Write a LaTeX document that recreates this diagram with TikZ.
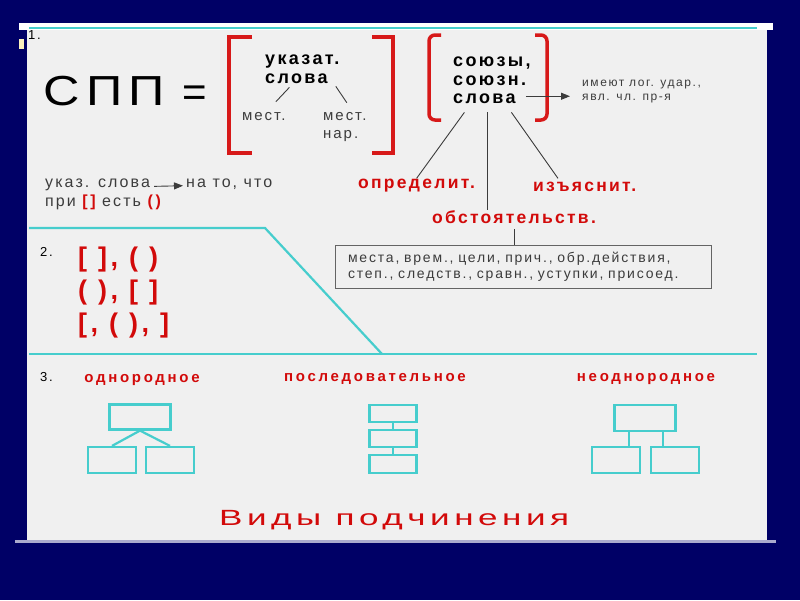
\documentclass[tikz,border=0pt]{standalone}
\usepackage{fontspec}
\setmainfont{Liberation Sans}[LetterSpace=13]
\newfontfamily\widefont{Liberation Sans}[LetterSpace=18]
\usetikzlibrary{arrows.meta, calc}

\definecolor{navybg}{RGB}{0,0,102}
\definecolor{panelgray}{RGB}{240,240,240}
\definecolor{cyanline}{RGB}{70,205,205}
\definecolor{redtext}{RGB}{210,10,10}
\definecolor{bracketred}{RGB}{215,25,25}
\definecolor{darktext}{RGB}{60,60,60}
\definecolor{boxgray}{RGB}{100,100,100}
\definecolor{edgeline}{RGB}{170,170,205}
\definecolor{cream}{RGB}{250,240,190}

\begin{document}
\begin{tikzpicture}[x=1pt, y=-1pt, >={Triangle[length=9pt,width=7pt]},
    every node/.style={inner sep=0pt},
    graytxt/.style={anchor=base west, text=darktext, font=\fontsize{15}{18}\selectfont},
    smalltxt/.style={anchor=base west, text=darktext, font=\fontsize{12}{14}\selectfont},
    numtxt/.style={anchor=base west, text=black, font=\fontsize{13}{15}\selectfont},
    boldtxt/.style={anchor=base west, text=black, font=\fontsize{18}{20}\selectfont\bfseries},
    redtxt/.style={anchor=base west, text=redtext, font=\fontsize{17.5}{20}\selectfont\bfseries},
    kindtxt/.style={anchor=base, text=redtext, font=\widefont\fontsize{15}{17}\selectfont\bfseries},
    brtxt/.style={anchor=base west, text=redtext, font=\fontsize{27}{30}\selectfont\bfseries},
    redbr/.style={draw=bracketred, line width=3.5pt},
    cyline/.style={draw=cyanline, line width=2.2pt},
    cybox/.style={cyline, minimum width=48pt, minimum height=26pt},
    link/.style={draw=darktext, line width=0.9pt}
  ]
    \useasboundingbox (0,0) rectangle (800,600);

    % Background and panel
    \fill[navybg] (0,0) rectangle (800,600);
    \fill[panelgray] (27,23) rectangle (767,540);
    \fill[white] (19,23) rectangle (773,30);
    \fill[edgeline] (15,540) rectangle (776,543);
    \fill[cream] (19,39) rectangle (24,49);

    % Section lines
    \draw[cyline] (29,28) -- (757,28);
    \draw[cyline] (29,228) -- (265,228) -- (382,354);
    \draw[cyline] (29,354) -- (757,354);

    % Section 1
    \node[numtxt] (num1) at (28,39) {1.};
    \node[anchor=base west, font=\fontsize{42}{42}\selectfont] (spp) at (43,105) {\resizebox{122pt}{\height}{СПП}};
    \node[anchor=base west, font=\fontsize{42}{42}\selectfont] (eq) at (182,106) {=};

    \draw[redbr] (252,37) -- (229,37) -- (229,153) -- (252,153);
    \draw[redbr] (372,37) -- (393,37) -- (393,153) -- (372,153);
    \node[boldtxt] (ukazat) at (265,64) {указат.};
    \node[boldtxt] (slova1) at (265,83) {слова};
    \node[graytxt] (mest) at (242,120) {мест.};
    \node[graytxt] (mestnar) at (323,120) {мест.};
    \node[graytxt] (nar) at (323,138) {нар.};
    \draw[link] ([xshift=-7pt,yshift=-4pt]slova1.south) -- ([xshift=12pt,yshift=10pt]mest.north);
    \draw[link] ([xshift=8pt,yshift=-3pt]slova1.south east) -- ([xshift=2pt,yshift=9pt]mestnar.north);

    \draw[redbr, rounded corners=6pt] (441,35) -- (429,35) -- (429,120) -- (441,120);
    \draw[redbr, rounded corners=6pt] (535,35) -- (547,35) -- (547,120) -- (535,120);
    \node[boldtxt] (soyuzy) at (453,66) {союзы,};
    \node[boldtxt] (soyuzn) at (453,85) {союзн.};
    \node[boldtxt] (slova2) at (453,103) {слова};
    \node[smalltxt] (imeyut) at (582,86) {имеют лог. удар.,};
    \node[smalltxt] (yavl) at (582,100) {явл. чл. пр-я};
    \draw[link, ->] ([xshift=10pt,yshift=2pt]slova2.east) -- ($(slova2.east -| yavl.west)+(-12,-2)$);

    \node[redtxt] (opred) at (358,188) {определит.};
    \node[redtxt] (izyas) at (533,191) {изъяснит.};
    \node[redtxt] (obst) at (432,223) {обстоятельств.};
    \draw[link] ([xshift=-20pt,yshift=-9pt]slova2.south) -- (opred.north);
    \draw[link] ([xshift=3pt,yshift=-9pt]slova2.south) -- ($(slova2.south |- obst.north)+(3,0)$);
    \draw[link] ([xshift=27pt,yshift=-9pt]slova2.south) -- ([xshift=25pt,yshift=3pt]izyas.north west);

    \node[draw=boxgray, line width=0.8pt, text width=350pt, inner xsep=13pt, minimum height=43pt,
          align=left, text=darktext, font=\fontsize{14}{16}\selectfont] (kinds) at (523,266.5)
          {места, врем., цели, прич., обр.действия,\\степ., следств., сравн., уступки, присоед.};
    \draw[link] ([yshift=-6pt]obst.south) -- (obst.south |- kinds.north);

    \node[graytxt, font=\fontsize{16}{18}\selectfont] (ukaz) at (45,187) {указ. слова};
    \node[graytxt, font=\fontsize{16}{18}\selectfont] (nato) at (186,187) {на то, что};
    \draw[link, ->] ([xshift=4pt,yshift=-2pt]ukaz.east) -- ([xshift=-3pt,yshift=-2pt]nato.west);
    \node[graytxt, font=\fontsize{16}{18}\selectfont] (pri) at (45,206)
          {при {\color{redtext}\bfseries[\,]} есть {\color{redtext}\bfseries(\,)}};

    % Section 2
    \node[numtxt] (num2) at (40,256) {2.};
    \node[brtxt] (br1) at (78,266) {[ ], ( )};
    \node[brtxt] (br2) at (78,299) {( ), [ ]};
    \node[brtxt] (br3) at (78,332) {[, ( ), ]};

    % Section 3
    \node[numtxt] (num3) at (40,381) {3.};
    \node[kindtxt] (odnor) at (142,382) {однородное};
    \node[kindtxt] (posl) at (375,381) {последовательное};
    \node[kindtxt] (neodn) at (646,381) {неоднородное};

    % homogeneous
    \node[cybox, minimum width=61pt, minimum height=25pt] (hTop) at (140,417) {};
    \node[cybox] (hLeft) at (112,460) {};
    \node[cybox] (hRight) at (170,460) {};
    \draw[cyline] (hTop.south) -- (hLeft.north);
    \draw[cyline] (hTop.south) -- (hRight.north);

    % sequential
    \node[cybox, minimum width=47pt, minimum height=17pt] (sTop) at (393,413.5) {};
    \node[cybox, minimum width=47pt, minimum height=17pt] (sMid) at (393,438.5) {};
    \node[cybox, minimum width=47pt, minimum height=18pt] (sBot) at (393,464) {};
    \draw[cyline] (sTop) -- (sMid);
    \draw[cyline] (sMid) -- (sBot);

    % heterogeneous
    \node[cybox, minimum width=61pt] (nTop) at (645,418) {};
    \node[cybox] (nLeft) at (616,460) {};
    \node[cybox] (nRight) at (675,460) {};
    \draw[cyline] ($(nTop.south)+(-16,0)$) -- ($(nLeft.north)+(13,0)$);
    \draw[cyline] ($(nTop.south)+(18,0)$) -- ($(nRight.north)+(-12,0)$);

    \node[anchor=base west, text=redtext, font=\fontsize{22}{24}\selectfont] (title) at (219,525)
          {\resizebox{350pt}{\height}{Виды подчинения}};
\end{tikzpicture}
\end{document}
